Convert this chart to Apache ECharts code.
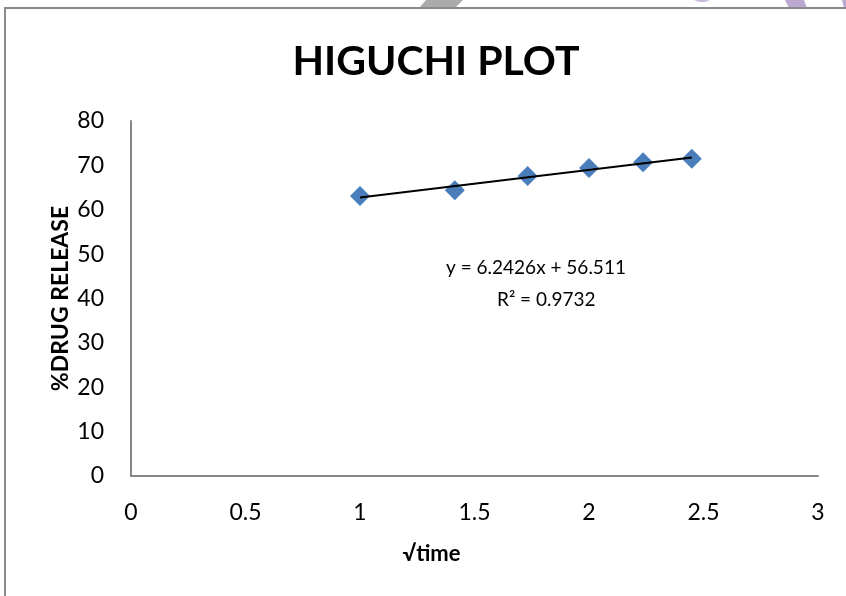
<!DOCTYPE html>
<html>
<head>
<meta charset="utf-8">
<title>HIGUCHI PLOT</title>
<script src="https://cdn.jsdelivr.net/npm/echarts@6/dist/echarts.min.js"></script>
<style>
  html, body { margin: 0; padding: 0; background: #ffffff; }
  #chart { width: 846px; height: 596px; }
</style>
</head>
<body>
<div id="chart"></div>
<script>
// Square root of time (x) and cumulative % drug released (y)
const sqrtTime = [1, 1.414, 1.732, 2, 2.236, 2.449];
const drugRelease = [63.1, 64.4, 67.6, 69.4, 70.7, 71.5];

// Linear trendline fitted to the release data
const slope = 6.2426;
const intercept = 56.511;
const rSquared = 0.9732;

// Axis ranges and tick steps
const xMin = 0, xMax = 3, xStep = 0.5;
const yMin = 0, yMax = 80, yStep = 10;

const FONT = 'Lato, "Open Sans", sans-serif';

const points = sqrtTime.map((x, i) => [x, drugRelease[i]]);
const xFirst = sqrtTime[0];
const xLast = sqrtTime[sqrtTime.length - 1];
const trend = [
  [xFirst, slope * xFirst + intercept],
  [xLast, slope * xLast + intercept]
];

const chart = echarts.init(document.getElementById('chart'), null, { renderer: 'canvas' });

chart.setOption({
  animation: false,
  backgroundColor: '#ffffff',
  graphic: [
    // Page decorations peeking above the chart frame
    { type: 'polygon', shape: { points: [[426, 0], [463, 0], [455, 8], [419, 8]] },
      style: { fill: '#ababab' } },
    { type: 'polygon', shape: { points: [[785, 0], [804, 0], [807, 8], [789, 8]] },
      style: { fill: '#bba9d1' } },
    { type: 'polygon', shape: { points: [[694, 0], [710, 0], [705, 2], [699, 2]] },
      style: { fill: '#c9bbdc' } },
    { type: 'polygon', shape: { points: [[842, 0], [846, 0], [846, 8], [844, 8]] },
      style: { fill: '#bba9d1' } },
    // Chart area frame
    { type: 'rect', shape: { x: 5, y: 8, width: 900, height: 700 },
      style: { fill: 'none', stroke: '#8a8a8a', lineWidth: 2 } },
    // Trendline equation and fit statistic
    { type: 'text', left: 446, top: 258,
      style: { text: 'y = ' + slope + 'x + ' + intercept, font: '19px ' + FONT, fill: '#000000' } },
    { type: 'text', left: 497, top: 290,
      style: { text: 'R² = ' + rSquared, font: '19px ' + FONT, fill: '#000000' } }
  ],
  title: {
    text: 'HIGUCHI PLOT',
    left: 431,
    textAlign: 'center',
    top: 36,
    textStyle: { fontFamily: FONT, fontWeight: 'bold', fontSize: 41, color: '#000000' }
  },
  grid: { left: 131, right: 28, top: 121, bottom: 120, containLabel: false },
  xAxis: {
    type: 'value',
    min: xMin, max: xMax, interval: xStep,
    name: '√time',
    nameLocation: 'middle',
    nameGap: 67,
    nameMoveOverlap: false,
    nameTextStyle: { fontFamily: FONT, fontWeight: 'bold', fontSize: 22, color: '#000000',
                     padding: [0, 86, 0, 0] },
    axisLine: { show: true, lineStyle: { color: '#868686', width: 2 } },
    axisTick: { show: false },
    splitLine: { show: false },
    axisLabel: { fontFamily: FONT, fontSize: 23, color: '#000000', margin: 25 }
  },
  yAxis: {
    type: 'value',
    min: yMin, max: yMax, interval: yStep,
    name: '%DRUG RELEASE',
    nameLocation: 'middle',
    nameGap: 59,
    nameMoveOverlap: false,
    nameTextStyle: { fontFamily: FONT, fontWeight: 'bold', fontSize: 23, color: '#000000' },
    axisLine: { show: true, lineStyle: { color: '#868686', width: 2 } },
    axisTick: { show: false },
    splitLine: { show: false },
    axisLabel: { fontFamily: FONT, fontSize: 23, color: '#000000', margin: 27 }
  },
  series: [
    {
      name: 'Release',
      type: 'scatter',
      data: points,
      symbol: 'diamond',
      symbolSize: 20,
      itemStyle: { color: '#4a7ebb', opacity: 1 },
      z: 3
    },
    {
      name: 'Linear fit',
      type: 'line',
      data: trend,
      symbol: 'none',
      lineStyle: { color: '#000000', width: 2 },
      z: 4
    }
  ]
});
</script>
</body>
</html>
